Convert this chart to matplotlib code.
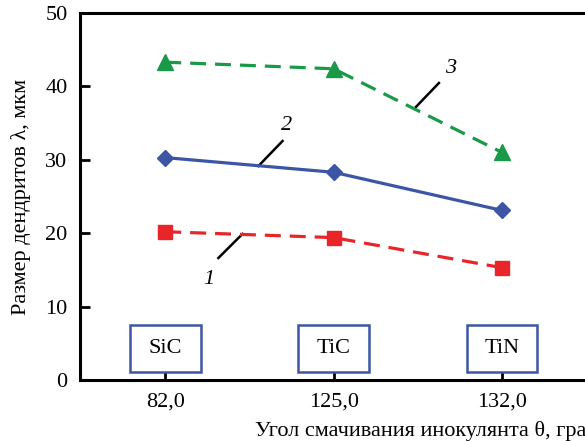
import matplotlib
matplotlib.use("Agg")
import matplotlib.pyplot as plt
from matplotlib.patches import Rectangle

categories = ["82,0", "125,0", "132,0"]
inoculants = ["SiC", "TiC", "TiN"]
series1 = [20.2, 19.4, 15.3]
series2 = [30.3, 28.3, 23.1]
series3 = [43.3, 42.4, 31.0]
yticks = [0, 10, 20, 30, 40, 50]

plt.rcParams['font.family'] = ['Liberation Serif', 'DejaVu Serif']

fig = plt.figure(figsize=(5.85, 4.41), dpi=100)
W, H = 585, 441
ax = fig.add_axes([80 / W, 61 / H, 540 / W, 367 / H])

x = list(range(len(categories)))
red = '#e8262a'
blue = '#3c55a5'
green = '#1a9a48'

ax.plot(x, series1, color=red, lw=2.3, dashes=(5, 2.8), marker='s', ms=9.5, zorder=3)
ax.plot(x, series2, color=blue, lw=2.3, marker='D', ms=8, zorder=3)
ax.plot(x, series3, color=green, lw=2.3, dashes=(5, 2.8), marker='^', ms=11, zorder=3)

ax.set_xlim(-0.506, 2.7)
ax.set_ylim(0, 50)
ax.set_yticks(yticks)
ax.set_xticks(x)
ax.set_xticklabels(categories)
ax.tick_params(direction='in', length=7, width=2, labelsize=16, pad=9)
for s in ['left', 'bottom', 'top']:
    ax.spines[s].set_linewidth(2.2)
ax.spines['right'].set_visible(False)

for xi, name in zip(x, inoculants):
    ax.add_patch(Rectangle((xi - 0.21, 1.1), 0.42, 6.4, fill=True, facecolor='white',
                           edgecolor=blue, lw=1.8, zorder=4))
    ax.text(xi, 4.3, name, ha='center', va='center', fontsize=16, zorder=5)

# leader lines and curve numbers
def px2d(px, py):
    return ((px - 165) / 168.0, (380 - py) / 7.34)

for (p0, p1, lab, lp) in [((242, 234), (218, 258), '1', (208, 280)),
                          ((258, 166), (282, 141), '2', (286, 125)),
                          ((415, 107), (438, 83), '3', (450, 68))]:
    a = px2d(*p0); b = px2d(*p1); c = px2d(*lp)
    ax.plot([a[0], b[0]], [a[1], b[1]], color='black', lw=1.8, zorder=2)
    ax.text(c[0], c[1], lab, fontsize=16, style='italic', ha='center', va='center')

ax.set_ylabel('Размер дендритов λ, мкм', fontsize=16, labelpad=10)
fig.text(255 / W, 1 - 431 / H, 'Угол смачивания инокулянта θ, град', fontsize=16,
         ha='left', va='center')

fig.savefig('out.png', dpi=100)
